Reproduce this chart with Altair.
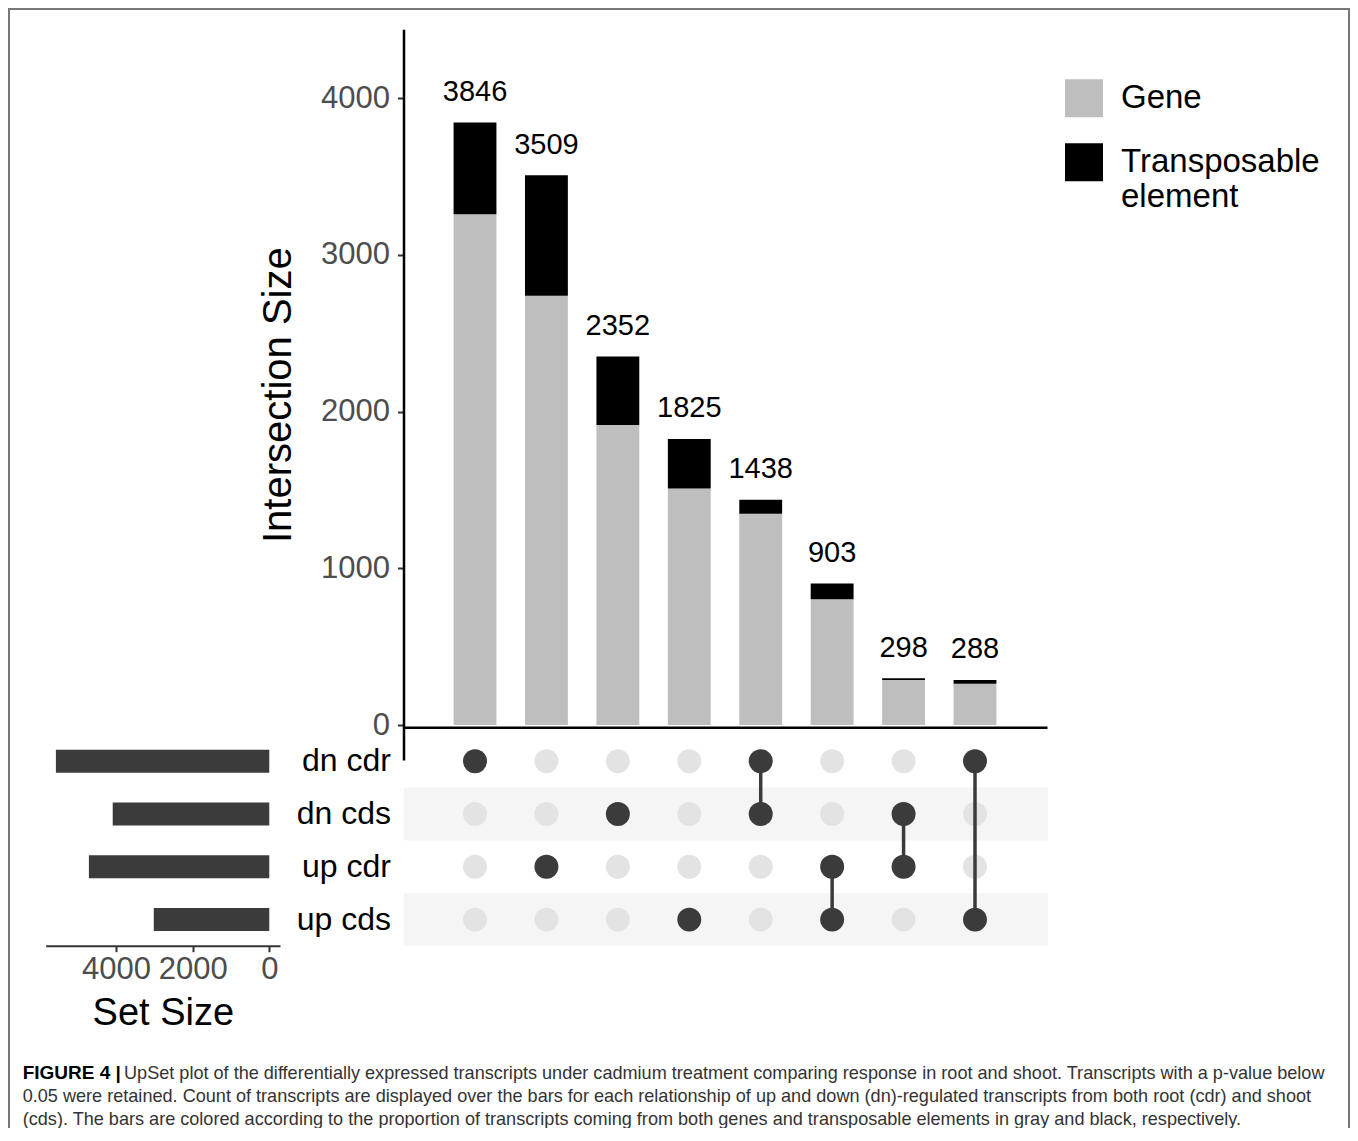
import altair as alt
import pandas as pd

# ---------------- data ----------------
sets = ["dn cdr", "dn cds", "up cdr", "up cds"]
set_sizes = [5572, 4088, 4710, 3016]

inter_ids = ["dn cdr", "up cdr", "dn cds", "up cds",
             "dn cdr & dn cds", "up cdr & up cds", "dn cds & up cdr", "dn cdr & up cds"]
inter_members = [["dn cdr"], ["up cdr"], ["dn cds"], ["up cds"],
                 ["dn cdr", "dn cds"], ["up cdr", "up cds"], ["dn cds", "up cdr"], ["dn cdr", "up cds"]]
inter_totals = [3846, 3509, 2352, 1825, 1438, 903, 298, 288]
gene_counts = [3260, 2740, 1915, 1509, 1348, 803, 288, 264]
te_counts = [586, 769, 437, 316, 90, 100, 10, 24]

types = ["Gene", "Transposable element"]
type_colors = ["#bebebe", "#000000"]

y_ticks = [0, 1000, 2000, 3000, 4000]
set_ticks = [0, 2000, 4000]

caption_bold = "FIGURE 4 |"
caption_first = ("UpSet plot of the differentially expressed transcripts under cadmium treatment "
                 "comparing response in root and shoot. Transcripts with a p-value below")
caption_rest = [
    "0.05 were retained. Count of transcripts are displayed over the bars for each relationship of up and down "
    "(dn)-regulated transcripts from both root (cdr) and shoot",
    "(cds). The bars are colored according to the proportion of transcripts coming from both genes and "
    "transposable elements in gray and black, respectively.",
]

# ---------------- tables ----------------
bars_rows = []
for i, iid in enumerate(inter_ids):
    bars_rows.append({"inter": iid, "type": types[0], "count": gene_counts[i], "ord": 0})
    bars_rows.append({"inter": iid, "type": types[1], "count": te_counts[i], "ord": 1})
bars_df = pd.DataFrame(bars_rows)
labels_df = pd.DataFrame({"inter": inter_ids, "total": inter_totals,
                          "label": [str(v) for v in inter_totals]})

cells = []
links = []
for i, iid in enumerate(inter_ids):
    for r, s in enumerate(sets):
        cells.append({"inter": iid, "row": r, "member": s in inter_members[i]})
    rows = [sets.index(s) for s in inter_members[i]]
    if len(rows) > 1:
        links.append({"inter": iid, "r0": min(rows), "r1": max(rows)})
cells_df = pd.DataFrame(cells)
dark_df = cells_df[cells_df["member"]]
links_df = pd.DataFrame(links)
bands_df = pd.DataFrame({"row": [1, 3], "lo": [0, 0], "hi": [1, 1]})
bands_df["r0"] = bands_df["row"] - 0.5
bands_df["r1"] = bands_df["row"] + 0.5
sets_df = pd.DataFrame({"set": sets, "size": set_sizes})

cap_bold_df = pd.DataFrame({"line": [0], "pos": [0], "text": [caption_bold]})
cap_first_df = pd.DataFrame({"line": [0], "pos": [0], "text": [caption_first]})
cap_rest_df = pd.DataFrame({"line": [1, 2], "pos": [0, 0], "text": caption_rest})
frame_df = pd.DataFrame({"a": [0], "b": [1]})

# ---------------- layout (plot pixels) ----------------
W, H = 1342, 1120
FONT = "Liberation Sans"
DARK = "#3b3b3b"

xs_inter = alt.Scale(type="band", domain=inter_ids, range=[395, 1039],
                     paddingInner=0.4, paddingOuter=0.708)
ys_count = alt.Scale(domain=[-223, 4440], range=[752, 21.3], nice=False, zero=False)
ys_row = alt.Scale(domain=[-0.5, 3.5], range=[726.8, 938], nice=False, zero=False)
ys_set = alt.Scale(type="band", domain=sets, range=[726.8, 938],
                   paddingInner=0.565, paddingOuter=0.2825)
xs_size = alt.Scale(domain=[5838, -280], range=[37.7, 272], nice=False, zero=False)
xs_bandrect = alt.Scale(domain=[0, 1], range=[396, 1040], nice=False, zero=False)
xs_cap = alt.Scale(domain=[0, 1], range=[14.7, 1340], nice=False, zero=False)
ys_cap = alt.Scale(domain=[0, 2], range=[1070.5, 1116.8], nice=False, zero=False)
xs_frame = alt.Scale(domain=[0, 1], range=[1, W - 1], nice=False, zero=False)
ys_frame = alt.Scale(domain=[0, 1], range=[1, H + 40], nice=False, zero=False)

x_inter_noaxis = alt.X("inter:N", scale=xs_inter, axis=None)

frame = alt.Chart(frame_df).mark_rect(fillOpacity=0, stroke="#777777", strokeWidth=2).encode(
    x=alt.X("a:Q", scale=xs_frame, axis=None),
    x2="b:Q",
    y=alt.Y("a:Q", scale=ys_frame, axis=None),
    y2="b:Q",
)

bars = alt.Chart(bars_df).mark_bar(strokeWidth=0).encode(
    x=alt.X("inter:N", scale=xs_inter,
            axis=alt.Axis(orient="bottom", offset=719.3 - H, labels=False, ticks=False,
                          domainColor="#000000", domainWidth=2.5, title=None, grid=False)),
    y=alt.Y("count:Q", scale=ys_count, stack="zero",
            axis=alt.Axis(orient="left", offset=-395.5, values=y_ticks, format="d", tickSize=6,
                          tickWidth=2, tickColor="#333333", domainColor="#000000", domainWidth=2.5,
                          labelFontSize=31, labelColor="#4d4d4d", labelPadding=8, labelFont=FONT,
                          labelFlush=False, title="Intersection Size", titleFontSize=40,
                          titleFontWeight="normal", titleColor="#000000", titleFont=FONT,
                          titlePadding=22, grid=False)),
    color=alt.Color("type:N", scale=alt.Scale(domain=types, range=type_colors),
                    legend=alt.Legend(orient="none", legendX=1057, legendY=71.3, title=None,
                                      symbolType="square", symbolSize=1444, symbolStrokeWidth=0,
                                      labelFontSize=33, labelFont=FONT, labelColor="#000000",
                                      labelOffset=18, labelLimit=400, rowPadding=26, padding=0,
                                      labelExpr="split(datum.label, ' ')")),
    order=alt.Order("ord:Q"),
)

count_labels = alt.Chart(labels_df).mark_text(fontSize=29, dy=-21.6, baseline="alphabetic",
                                              color="#000000", font=FONT).encode(
    x=x_inter_noaxis,
    y=alt.Y("total:Q", scale=ys_count, axis=None),
    text="label:N",
)

bands = alt.Chart(bands_df).mark_rect(color="#f5f5f5").encode(
    x=alt.X("lo:Q", scale=xs_bandrect, axis=None),
    x2="hi:Q",
    y=alt.Y("r0:Q", scale=ys_row, axis=None),
    y2="r1:Q",
)

light_dots = alt.Chart(cells_df).mark_circle(size=573, opacity=1, color="#e3e3e3").encode(
    x=x_inter_noaxis,
    y=alt.Y("row:Q", scale=ys_row, axis=None),
)

link_rules = alt.Chart(links_df).mark_rule(strokeWidth=3.5, color=DARK).encode(
    x=x_inter_noaxis,
    y=alt.Y("r0:Q", scale=ys_row, axis=None),
    y2="r1:Q",
)

dark_dots = alt.Chart(dark_df).mark_circle(size=573, opacity=1, color=DARK).encode(
    x=x_inter_noaxis,
    y=alt.Y("row:Q", scale=ys_row, axis=None),
)

set_bars = alt.Chart(sets_df).mark_bar(color=DARK, strokeWidth=0).encode(
    x=alt.X("size:Q", scale=xs_size,
            axis=alt.Axis(orient="bottom", offset=937.7 - H, values=set_ticks, format="d",
                          tickSize=6, tickWidth=2, tickColor="#333333", domainColor="#333333",
                          domainWidth=2, labelFontSize=31, labelColor="#4d4d4d", labelPadding=3,
                          labelFont=FONT, labelFlush=False, labelOverlap=False, title="Set Size",
                          titleFontSize=38, titleFontWeight="normal", titleColor="#000000",
                          titleFont=FONT, titlePadding=10, grid=False)),
    y=alt.Y("set:N", scale=ys_set,
            axis=alt.Axis(orient="left", offset=-395.5, domain=False, ticks=False,
                          labelFontSize=32, labelColor="#000000", labelPadding=13, labelFont=FONT,
                          title=None, grid=False)),
)

cap_bold = alt.Chart(cap_bold_df).mark_text(align="left", baseline="alphabetic", font=FONT,
                                            fontSize=19, fontWeight="bold", color="#000000").encode(
    x=alt.X("pos:Q", scale=xs_cap, axis=None),
    y=alt.Y("line:Q", scale=ys_cap, axis=None),
    text="text:N",
)
cap_first = alt.Chart(cap_first_df).mark_text(align="left", baseline="alphabetic", font=FONT,
                                              fontSize=18.1, color="#333333", dx=101.3).encode(
    x=alt.X("pos:Q", scale=xs_cap, axis=None),
    y=alt.Y("line:Q", scale=ys_cap, axis=None),
    text="text:N",
)
cap_rest = alt.Chart(cap_rest_df).mark_text(align="left", baseline="alphabetic", font=FONT,
                                            fontSize=18.1, color="#333333").encode(
    x=alt.X("pos:Q", scale=xs_cap, axis=None),
    y=alt.Y("line:Q", scale=ys_cap, axis=None),
    text="text:N",
)

chart = alt.layer(
    frame, bars, count_labels, bands, light_dots, link_rules, dark_dots, set_bars,
    cap_bold, cap_first, cap_rest,
).resolve_scale(
    x="independent", y="independent", color="independent"
).resolve_axis(
    x="independent", y="independent"
).properties(
    width=W, height=H, padding=0,
    autosize=alt.AutoSizeParams(type="none"),
).configure(
    font=FONT,
).configure_view(
    stroke=None,
)

chart.save("out.html", embed_options={"renderer": "svg", "actions": False})
